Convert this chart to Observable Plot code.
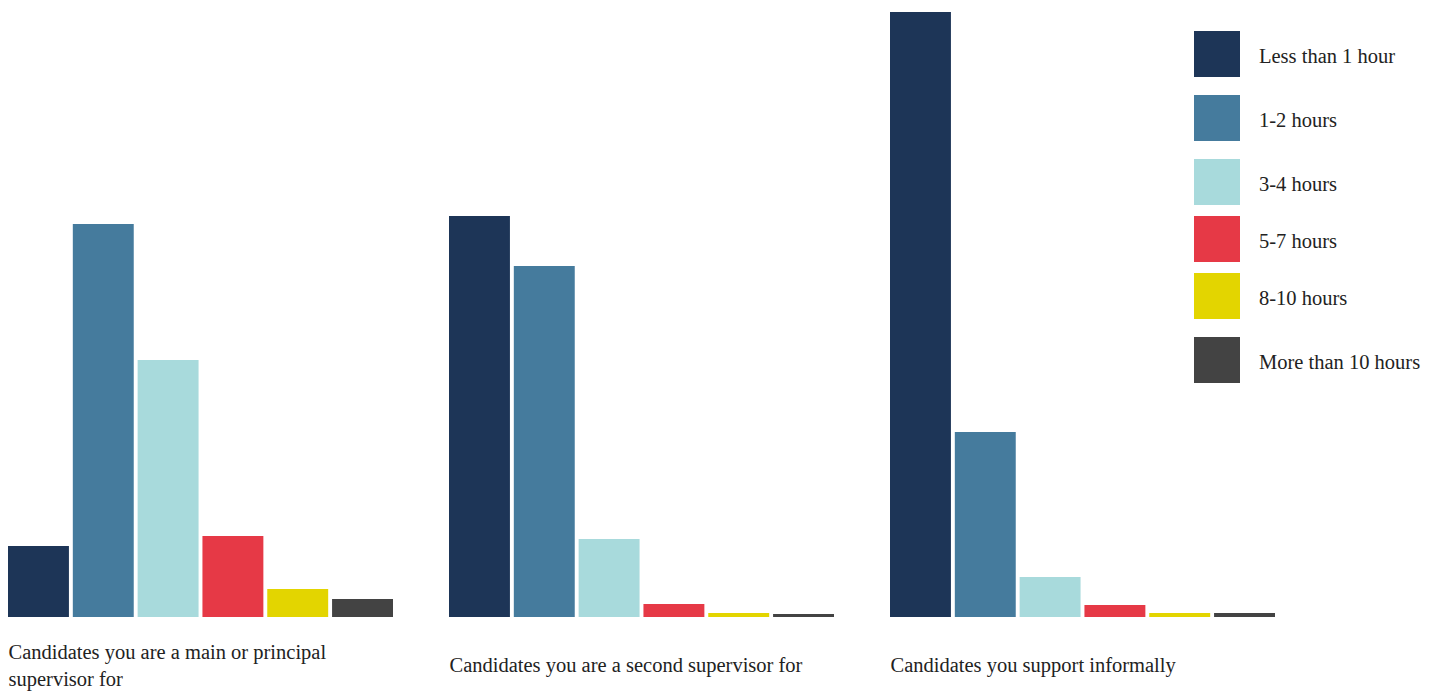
<!DOCTYPE html>
<html>
<head>
<meta charset="utf-8">
<script src="https://cdn.jsdelivr.net/npm/d3@7"></script>
<script src="https://cdn.jsdelivr.net/npm/@observablehq/plot@0.6"></script>
<style>
  html, body { margin: 0; padding: 0; background: #fff; }
  #wrap { position: relative; width: 1435px; height: 691px; font-family: "Liberation Serif", "DejaVu Serif", serif; }
  #legend { position: absolute; left: 1194px; top: 31px; }
  .row { display: flex; align-items: center; height: 46px; font-size: 20.5px; color: #222; }
  .row span { padding-top: 5px; }
  .sw { width: 46px; height: 46px; margin-right: 19px; flex: none; }
  .row:nth-child(2) { margin-top: 18px; }
  .row:nth-child(3) { margin-top: 18px; }
  .row:nth-child(4) { margin-top: 11px; }
  .row:nth-child(5) { margin-top: 11px; }
  .row:nth-child(6) { margin-top: 18px; }
</style>
</head>
<body>
<div id="wrap"><div id="chart"></div><div id="legend"></div></div>
<script>
const groups = [
  "Candidates you are a main or principal supervisor for",
  "Candidates you are a second supervisor for",
  "Candidates you support informally"
];
const categories = ["Less than 1 hour", "1-2 hours", "3-4 hours", "5-7 hours", "8-10 hours", "More than 10 hours"];
const mainValues = [71, 393, 257, 81, 28, 18];
const secondValues = [401, 351, 78, 13, 4, 3];
const informalValues = [605, 185, 40, 12, 4, 4];
const colors = ["#1d3557", "#457b9d", "#a8dadc", "#e63946", "#e3d500", "#434343"];

const seriesByGroup = [mainValues, secondValues, informalValues];
const data = [];
groups.forEach((g, gi) => categories.forEach((c, ci) => data.push({group: g, category: c, value: seriesByGroup[gi][ci]})));

const chart = Plot.plot({
  width: 1435,
  height: 691,
  marginLeft: 8,
  marginRight: 160,
  marginTop: 12,
  marginBottom: 74,
  style: {fontFamily: "Liberation Serif, DejaVu Serif, serif", color: "#222", background: "transparent"},
  fx: {domain: groups, paddingInner: 0.127, paddingOuter: 0, round: false, axis: null},
  x: {domain: categories, paddingInner: 0.06, paddingOuter: 0, round: false, axis: null},
  y: {axis: null},
  color: {domain: categories, range: colors},
  marks: [
    Plot.barY(data, {fx: "group", x: "category", y: "value", fill: "category"}),
    Plot.text(groups, {
      fx: d => d, text: d => d,
      frameAnchor: "bottom-left", dy: 46,
      textAnchor: "start", lineAnchor: "middle",
      lineWidth: 21, lineHeight: 1.32, fontSize: 20.5, fill: "#222"
    })
  ]
});
document.getElementById("chart").appendChild(chart);

const legend = document.getElementById("legend");
categories.forEach((c, i) => {
  const row = document.createElement("div");
  row.className = "row";
  const sw = document.createElement("div");
  sw.className = "sw";
  sw.style.background = colors[i];
  const lab = document.createElement("span");
  lab.textContent = c;
  row.appendChild(sw);
  row.appendChild(lab);
  legend.appendChild(row);
});
</script>
</body>
</html>
